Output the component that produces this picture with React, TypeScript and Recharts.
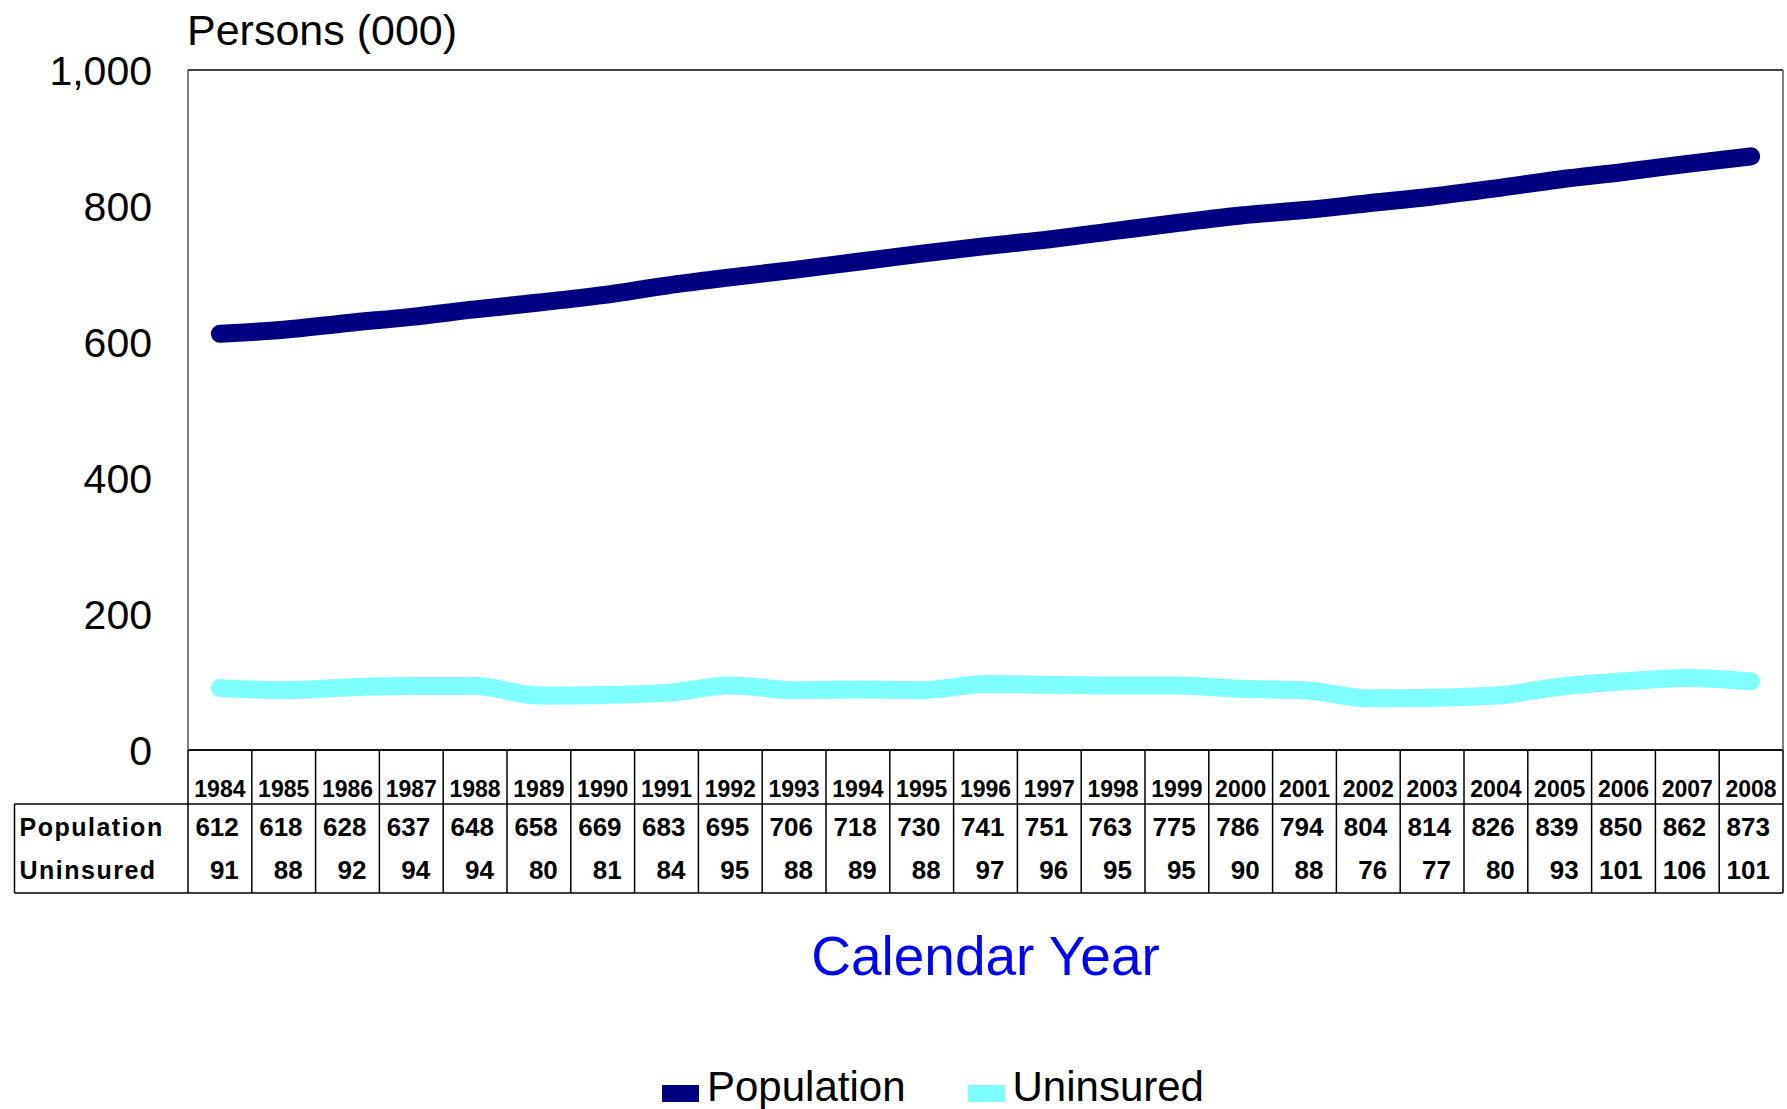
import React from "react"
import {
  LineChart,
  Line,
  XAxis,
  YAxis,
  CartesianGrid,
  Legend,
} from "recharts"

const years = [
  "1984", "1985", "1986", "1987", "1988", "1989", "1990", "1991", "1992",
  "1993", "1994", "1995", "1996", "1997", "1998", "1999", "2000", "2001",
  "2002", "2003", "2004", "2005", "2006", "2007", "2008",
]
const population = [
  612, 618, 628, 637, 648, 658, 669, 683, 695, 706, 718, 730, 741, 751, 763,
  775, 786, 794, 804, 814, 826, 839, 850, 862, 873,
]
const uninsured = [
  91, 88, 92, 94, 94, 80, 81, 84, 95, 88, 89, 88, 97, 96, 95, 95, 90, 88, 76,
  77, 80, 93, 101, 106, 101,
]
const yTicks = [0, 200, 400, 600, 800, 1000]

const data = years.map((year, i) => ({
  year,
  Population: population[i],
  Uninsured: uninsured[i],
}))

const FONT = '"Liberation Sans", Arial, sans-serif'
const W = 1787
const H = 1109
const PLOT_LEFT = 188
const PLOT_RIGHT = 1783
const TABLE_LEFT = 14.5
const CELL_W = (PLOT_RIGHT - PLOT_LEFT) / years.length
const HEADER_H = 54
const TABLE_H = 143
const LINE = "#000"

// each x tick draws its own column of the data table under the plot
function TableTick(props: any) {
  const { x, y, payload } = props
  const i = years.indexOf(payload.value)
  const left = x - CELL_W / 2
  const right = x + CELL_W / 2
  const last = i === years.length - 1
  return (
    <g fontFamily={FONT} fontWeight="bold" fill="#000">
      <line x1={left} x2={left} y1={y} y2={y + TABLE_H} stroke={LINE} strokeWidth={1.5} />
      {last && (
        <line x1={right} x2={right} y1={y} y2={y + TABLE_H} stroke={LINE} strokeWidth={1.5} />
      )}
      <text x={x} y={y + 47} textAnchor="middle" fontSize={23}>
        {payload.value}
      </text>
      <text x={right - 13} y={y + 86} textAnchor="end" fontSize={26}>
        {population[i]}
      </text>
      <text x={right - 13} y={y + 129} textAnchor="end" fontSize={26}>
        {uninsured[i]}
      </text>
      {i === 0 && (
        <g>
          <line x1={TABLE_LEFT} x2={left + CELL_W * years.length} y1={y + HEADER_H} y2={y + HEADER_H} stroke={LINE} strokeWidth={1.5} />
          <line x1={TABLE_LEFT} x2={left + CELL_W * years.length} y1={y + TABLE_H} y2={y + TABLE_H} stroke={LINE} strokeWidth={1.5} />
          <line x1={TABLE_LEFT} x2={TABLE_LEFT} y1={y + HEADER_H} y2={y + TABLE_H} stroke={LINE} strokeWidth={1.5} />
          <text x={TABLE_LEFT + 5} y={y + 86} fontSize={25} letterSpacing={1.5}>
            Population
          </text>
          <text x={TABLE_LEFT + 5} y={y + 129} fontSize={25} letterSpacing={1.5}>
            Uninsured
          </text>
        </g>
      )}
    </g>
  )
}

function LegendContent({ payload }: any) {
  return (
    <div style={{ display: "flex", alignItems: "center", fontFamily: FONT, fontSize: 42, lineHeight: "48px", color: "#000" }}>
      {(payload || []).map((entry: any, i: number) => (
        <div key={entry.value} style={{ display: "flex", alignItems: "center", marginRight: i === 0 ? 62 : 0 }}>
          <span style={{ display: "inline-block", width: 37, height: 17, background: entry.color, marginRight: 8, marginTop: 12 }} />
          <span>{entry.value}</span>
        </div>
      ))}
    </div>
  )
}

export default function App() {
  return (
    <div style={{ position: "absolute", left: 0, top: 0, width: W, height: H, background: "#fff" }}>
      <LineChart
        width={W}
        height={H}
        data={data}
        margin={{ top: 70, right: 3, bottom: H - 750 - TABLE_H, left: 0 }}
      >
        <CartesianGrid vertical={false} stroke="#000" strokeWidth={1.5} />
        <XAxis
          dataKey="year"
          scale="band"
          interval={0}
          height={TABLE_H}
          tickLine={false}
          tickSize={0}
          tickMargin={0}
          axisLine={{ stroke: "#000", strokeWidth: 1.5 }}
          tick={<TableTick />}
          label={{
            value: "Calendar Year",
            position: "bottom",
            offset: 43,
            fill: "#0000FF",
            fontSize: 55,
            fontFamily: FONT,
          }}
        />
        <YAxis
          yAxisId="left"
          width={PLOT_LEFT}
          domain={[0, 1000]}
          ticks={yTicks}
          interval={0}
          tickLine={false}
          tickSize={0}
          tickMargin={36}
          axisLine={{ stroke: "#555", strokeWidth: 1.5 }}
          tickFormatter={(v: number) => v.toLocaleString("en-US")}
          tick={{ fill: "#000", fontSize: 41, fontFamily: FONT }}
          label={{
            content: ({ viewBox }: any) => (
              <text
                x={viewBox.x + viewBox.width - 1}
                y={viewBox.y - 25}
                fontSize={43}
                fontFamily={FONT}
                fill="#000"
              >
                Persons (000)
              </text>
            ),
          }}
        />
        <YAxis
          yAxisId="right"
          orientation="right"
          width={1}
          domain={[0, 1000]}
          tick={false}
          tickLine={false}
          axisLine={{ stroke: "#555", strokeWidth: 1.5 }}
        />
        <Legend
          layout="vertical"
          align="center"
          verticalAlign="middle"
          wrapperStyle={{ left: 662, top: 1063, width: "auto" }}
          content={<LegendContent />}
        />
        <Line
          yAxisId="left"
          type="monotone"
          dataKey="Population"
          stroke="#000080"
          strokeWidth={18}
          strokeLinecap="round"
          dot={false}
          activeDot={false}
          isAnimationActive={false}
        />
        <Line
          yAxisId="left"
          type="monotone"
          dataKey="Uninsured"
          stroke="#80FFFF"
          strokeWidth={18}
          strokeLinecap="round"
          dot={false}
          activeDot={false}
          isAnimationActive={false}
        />
      </LineChart>
    </div>
  )
}
